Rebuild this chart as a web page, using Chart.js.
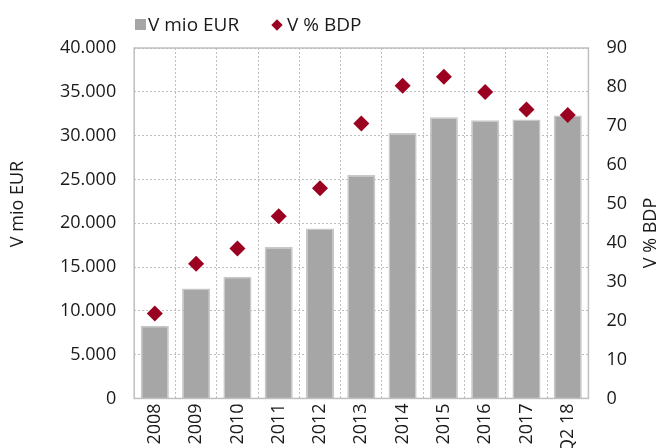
<!DOCTYPE html>
<html>
<head>
<meta charset="utf-8">
<script src="https://cdn.jsdelivr.net/npm/chart.js@4"></script>
<style>
  html, body { margin: 0; padding: 0; background: #fff; overflow: hidden; }
  #wrap { position: relative; width: 661px; height: 458px; }
  .leg { position: absolute; font-family: "Open Sans", sans-serif; font-size: 19px; color: #1a1a1a; line-height: 20px; white-space: nowrap; }
  .sq { position: absolute; width: 11px; height: 11px; background: #a6a6a6; }
  .dm { position: absolute; width: 8px; height: 8px; background: #9b0020; transform: rotate(45deg); }
</style>
</head>
<body>
<div id="wrap">
  <canvas id="chart" width="661" height="458"></canvas>
  <div class="sq" style="left:135px; top:19px;"></div>
  <div class="leg" style="left:148px; top:14px;">V mio EUR</div>
  <div class="dm" style="left:273px; top:21px;"></div>
  <div class="leg" style="left:287px; top:14px;">V % BDP</div>
</div>
<script>
const years = ['2008', '2009', '2010', '2011', '2012', '2013', '2014', '2015', '2016', '2017', 'Q2 18'];
const mioEur = [8300, 12550, 13900, 17300, 19400, 25500, 30300, 32100, 31750, 31850, 32300];
const pctBdp = [21.8, 34.6, 38.5, 46.8, 54.0, 70.6, 80.3, 82.6, 78.7, 74.2, 72.8];

const gridColor = '#bfbfbf';
const textColor = '#1a1a1a';
const font = { family: 'Open Sans', size: 18 };

function thousands(v) {
  return String(v).replace(/\B(?=(\d{3})+(?!\d))/g, '.');
}

// frame around the plot + both axis titles reading bottom-to-top
const frameAndTitles = {
  id: 'frameAndTitles',
  afterDatasetsDraw(chart) {
    const { ctx, chartArea: a } = chart;
    ctx.save();
    ctx.strokeStyle = gridColor;
    ctx.lineWidth = 1.5;
    ctx.strokeRect(a.left, a.top, a.right - a.left, a.bottom - a.top);
    ctx.fillStyle = textColor;
    ctx.font = '18px "Open Sans"';
    ctx.textAlign = 'center';
    ctx.textBaseline = 'middle';
    ctx.translate(18, 204);
    ctx.rotate(-Math.PI / 2);
    ctx.fillText('V mio EUR', 0, 0);
    ctx.restore();
    ctx.save();
    ctx.fillStyle = textColor;
    ctx.font = '18px "Open Sans"';
    ctx.textAlign = 'center';
    ctx.textBaseline = 'middle';
    ctx.translate(651, 233);
    ctx.rotate(-Math.PI / 2);
    ctx.fillText('V % BDP', 0, 0);
    ctx.restore();
  },
};

const ctx = document.getElementById('chart').getContext('2d');
new Chart(ctx, {
  type: 'bar',
  data: {
    labels: years,
    datasets: [
      {
        type: 'line',
        label: 'V % BDP',
        data: pctBdp,
        yAxisID: 'y1',
        showLine: false,
        pointStyle: 'rectRot',
        pointRadius: 8,
        pointHoverRadius: 8,
        backgroundColor: '#9b0020',
        borderColor: '#9b0020',
        borderWidth: 0,
        order: 0,
      },
      {
        label: 'V mio EUR',
        data: mioEur,
        yAxisID: 'y',
        backgroundColor: '#a6a6a6',
        borderColor: '#c8c8c8',
        borderWidth: 1.5,
        barPercentage: 0.68,
        categoryPercentage: 1,
        order: 1,
      },
    ],
  },
  options: {
    responsive: false,
    animation: false,
    layout: { padding: { left: 42, right: 16, top: 48, bottom: 0 } },
    plugins: {
      legend: { display: false },
      tooltip: { enabled: false },
    },
    scales: {
      x: {
        grid: { color: gridColor, borderDash: [2, 2], drawTicks: false, offset: true },
        border: { display: false, dash: [2, 2] },
        ticks: { color: textColor, font: font, maxRotation: 90, minRotation: 90, padding: 5 },
      },
      y: {
        position: 'left',
        min: 0,
        max: 40000,
        grid: { color: gridColor, drawTicks: false },
        border: { display: false, dash: [2, 2] },
        ticks: { color: textColor, font: font, stepSize: 5000, padding: 18, callback: (v) => thousands(v) },
      },
      y1: {
        position: 'right',
        min: 0,
        max: 90,
        grid: { display: false, drawTicks: false },
        border: { display: false },
        ticks: { color: textColor, font: font, stepSize: 10, padding: 18 },
      },
    },
  },
  plugins: [frameAndTitles],
});
</script>
</body>
</html>
